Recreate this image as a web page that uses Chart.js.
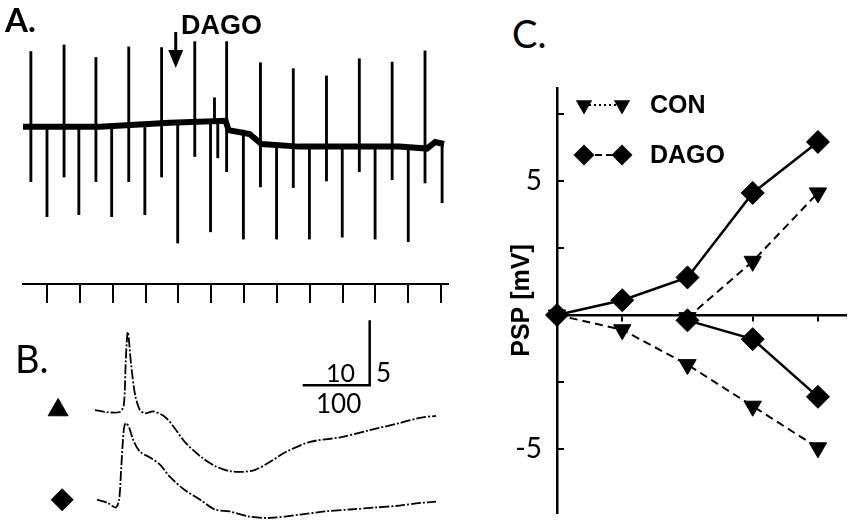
<!DOCTYPE html>
<html>
<head>
<meta charset="utf-8">
<script src="https://cdn.jsdelivr.net/npm/chart.js@4.4.1/dist/chart.umd.min.js"></script>
<style>
  html, body { margin: 0; padding: 0; background: #fff; }
  #fig { position: relative; width: 848px; height: 523px; overflow: hidden; background: #fff; }
  .box { position: absolute; }
  .box canvas { display: block; }
  .lbl { position: absolute; line-height: 1; color: #000; white-space: nowrap; }
  .round { font-family: Lato, "Open Sans", sans-serif; }
  .bold { font-family: "Liberation Sans", Arial, sans-serif; font-weight: bold; }
</style>
</head>
<body>
<div id="fig">
  <div class="box" style="left:0;top:0;width:460px;height:310px"><canvas id="traceA" width="460" height="310"></canvas></div>
  <div class="box" style="left:30px;top:315px;width:430px;height:208px"><canvas id="traceB" width="430" height="208"></canvas></div>
  <div class="box" style="left:500px;top:60px;width:348px;height:463px"><canvas id="pspC" width="348" height="463"></canvas></div>

  <div class="lbl round" style="left:5px;top:3px;font-size:33px;font-weight:bold">A.</div>
  <div class="lbl bold" style="left:181px;top:12px;font-size:27px">DAGO</div>
  <div class="lbl round" style="left:15px;top:339px;font-size:38px">B.</div>
  <div class="lbl round" style="left:326px;top:360px;font-size:25px">10</div>
  <div class="lbl round" style="left:376px;top:359px;font-size:26px">5</div>
  <div class="lbl round" style="left:316px;top:390px;font-size:26px">100</div>
  <div class="lbl round" style="left:512px;top:14px;font-size:38px">C.</div>
</div>

<script>
// ---- A: chart recorder trace (time in s, potential in mV, baseline = 0)
const spikeTime = [-0.49, 0, 0.52, 0.97, 1.49, 1.97, 2.49, 2.98, 3.49, 3.98, 4.50, 4.98, 5.10, 5.20,
                   5.47, 5.98, 6.50, 6.99, 7.50, 7.99, 8.51, 8.99, 9.51, 9.99, 10.51, 11.00, 11.51, 12.03];
const spikeTop = [11.4, 0, 12.4, 0, 10.5, 0, 12.1, 0, 12.0, 0.5, 12.9, 0.5, 4.4, 0.8,
                  12.9, -0.5, 9.7, -3.0, 8.8, -3.0, 7.7, -3.0, 10.3, -3.0, 9.8, -3.0, 11.5, -2.7];
const spikeBottom = [-8.3, -13.6, -7.6, -13.3, -8.3, -13.6, -8.3, -13.3, -7.6, -17.6, -4.5, -15.9, 0.8, -4.7,
                     -6.8, -17.0, -9.1, -17.0, -9.2, -17.0, -8.2, -16.7, -6.8, -17.0, -8.0, -17.4, -8.5, -11.5];
const baseTime = [-0.73, 1.61, 3.74, 5.44, 5.53, 6.17, 6.53, 7.69, 10.72, 11.57, 11.82, 12.09];
const baseLevel = [0, 0, 0.6, 0.9, -0.5, -1.1, -2.6, -3.0, -3.0, -3.3, -2.3, -2.6];
const timeMarks = [0, 1, 2, 3, 4, 5, 6, 7, 8, 9, 10, 11, 12];
const dagoOnset = 3.92;

// ---- B: averaged PSPs (ms, mV)
const traceTriTime = [0, 15, 37, 43, 46, 49, 54, 60, 67, 75, 87, 105, 119, 134, 157, 179, 201, 221, 239, 261, 284, 321, 366, 410, 455, 485, 509];
const traceTri = [0, -0.15, -0.15, 0.4, 3.85, 6.0, 3.45, 1.15, 0, -0.25, -0.1, -0.55, -1.4, -2.45, -3.55, -4.3, -4.7, -4.75, -4.6, -4.0, -3.25, -2.45, -2.1, -1.55, -1.0, -0.6, -0.45];
const traceDiaTime = [3, 19, 31, 36, 39, 43, 46, 51, 57, 67, 82, 97, 112, 134, 157, 179, 201, 231, 261, 306, 343, 381, 418, 455, 485, 509];
const traceDia = [0, -0.25, -0.6, 0, 2.3, 5.4, 5.9, 5.55, 4.6, 3.7, 3.25, 2.7, 1.75, 0.75, 0, -0.75, -0.9, -1.3, -1.4, -1.15, -0.9, -0.75, -0.6, -0.45, -0.25, -0.15];
const scaleBarMs = 100;
const scaleBarMv = 5;

// ---- C: PSP amplitude vs stimulus step
const steps = [0, 1, 2, 3, 4];
const conUp = [null, null, -0.1, 2.0, 4.55];
const conDown = [0, -0.55, -1.85, -3.4, -4.95];
const dagoUp = [0, 0.55, 1.4, 4.55, 6.45];
const dagoDown = [null, null, -0.2, -0.9, -3.05];
const pspTicks = [-5, -2.5, 0, 2.5, 5, 7.5];
const pspLabelled = [-5, 5];

Chart.defaults.color = '#000';
Chart.defaults.font.family = 'Lato, "Open Sans", sans-serif';

const ink = '#000';
const quiet = { legend: { display: false }, tooltip: { enabled: false } };
const noPad = s => { s.paddingTop = 0; s.paddingBottom = 0; s.paddingLeft = 0; s.paddingRight = 0; };

// A --------------------------------------------------------------
const dagoArrow = {
  id: 'dagoArrow',
  afterDraw(chart) {
    const { ctx, chartArea, scales } = chart;
    const x = scales.x.getPixelForValue(dagoOnset);
    const top = chartArea.top - 3;
    const tip = chartArea.top + 33;
    ctx.save();
    ctx.strokeStyle = ink;
    ctx.fillStyle = ink;
    ctx.lineWidth = 3;
    ctx.beginPath();
    ctx.moveTo(x, top);
    ctx.lineTo(x, tip - 16);
    ctx.stroke();
    ctx.beginPath();
    ctx.moveTo(x - 7.5, tip - 18);
    ctx.lineTo(x + 7.5, tip - 18);
    ctx.lineTo(x, tip);
    ctx.closePath();
    ctx.fill();
    ctx.restore();
  }
};

new Chart(document.getElementById('traceA'), {
  type: 'bar',
  data: {
    datasets: [
      {
        label: 'spikes',
        data: spikeTime.map((t, i) => ({ x: t, y: [spikeBottom[i], spikeTop[i]] })),
        backgroundColor: ink,
        borderWidth: 0,
        barThickness: 2.2,
        clip: false
      },
      {
        type: 'line',
        label: 'membrane potential',
        data: baseTime.map((t, i) => ({ x: t, y: baseLevel[i] })),
        borderColor: ink,
        borderWidth: 6,
        pointRadius: 0,
        tension: 0,
        clip: false
      }
    ]
  },
  options: {
    responsive: false,
    animation: false,
    events: [],
    layout: { autoPadding: false, padding: { left: 23, right: 12, top: 35, bottom: 7 } },
    plugins: quiet,
    scales: {
      x: {
        type: 'linear',
        min: -0.73,
        max: 12.21,
        offset: false,
        afterBuildTicks: s => { s.ticks = timeMarks.map(v => ({ value: v })); },
        afterFit: s => { s.height = 19; noPad(s); },
        ticks: { display: false },
        grid: { offset: false, drawOnChartArea: false, drawTicks: true, tickLength: 19, color: ink, lineWidth: 2 },
        border: { display: true, color: ink, width: 2 }
      },
      y: { display: false, min: -23.8, max: 13.9 }
    }
  },
  plugins: [dagoArrow]
});

// B --------------------------------------------------------------
const diaOffset = -6.9;
const barCorner = { x: 410, y: 1.9 };

new Chart(document.getElementById('traceB'), {
  type: 'line',
  data: {
    datasets: [
      {
        label: 'triangle',
        data: traceTriTime.map((t, i) => ({ x: t, y: traceTri[i] })),
        borderColor: ink, borderWidth: 1.8, borderDash: [10, 2, 2, 2],
        pointRadius: 0, tension: 0.3, clip: false
      },
      {
        label: 'diamond',
        data: traceDiaTime.map((t, i) => ({ x: t, y: traceDia[i] + diaOffset })),
        borderColor: ink, borderWidth: 1.8, borderDash: [10, 2, 2, 2],
        pointRadius: 0, tension: 0.3, clip: false
      },
      {
        label: 'scale',
        data: [
          { x: barCorner.x - scaleBarMs, y: barCorner.y },
          { x: barCorner.x, y: barCorner.y },
          { x: barCorner.x, y: barCorner.y + scaleBarMv }
        ],
        borderColor: ink, borderWidth: 2.5, pointRadius: 0, tension: 0, clip: false
      },
      {
        label: 'markers',
        data: [{ x: -55, y: 0 }, { x: -49, y: diaOffset }],
        showLine: false,
        pointStyle: ['triangle', 'rectRot'],
        pointRadius: [11.5, 11],
        pointBackgroundColor: ink, pointBorderColor: ink, pointBorderWidth: 1,
        clip: false
      }
    ]
  },
  options: {
    responsive: false,
    animation: false,
    events: [],
    layout: { autoPadding: false, padding: 0 },
    plugins: quiet,
    scales: {
      x: { type: 'linear', display: false, min: -97, max: 544.8 },
      y: { type: 'linear', display: false, min: -8.69, max: 7.31 }
    }
  }
});

// C --------------------------------------------------------------
function marker(ctx, style, x, y, r) {
  ctx.beginPath();
  if (style === 'triDown') {
    ctx.moveTo(x, y + r);
    ctx.lineTo(x - r * 0.866, y - r / 2);
    ctx.lineTo(x + r * 0.866, y - r / 2);
  } else {
    ctx.moveTo(x - r, y);
    ctx.lineTo(x, y - r);
    ctx.lineTo(x + r, y);
    ctx.lineTo(x, y + r);
  }
  ctx.closePath();
  ctx.fill();
}

const pspLegend = {
  id: 'pspLegend',
  afterDraw(chart) {
    const { ctx, chartArea } = chart;
    const rows = [
      { ds: chart.data.datasets[2], style: 'triDown', r: 9.5, dash: [2, 3] },
      { ds: chart.data.datasets[0], style: 'diamond', r: 10.5, dash: [7, 4] }
    ];
    ctx.save();
    ctx.fillStyle = ink;
    ctx.strokeStyle = ink;
    rows.forEach((row, i) => {
      const y = chartArea.top + 17 + i * 50;
      const x1 = chartArea.left + 27;
      const x2 = chartArea.left + 65;
      ctx.lineWidth = 2;
      ctx.setLineDash(row.dash);
      ctx.beginPath();
      ctx.moveTo(x1, y);
      ctx.lineTo(x2, y);
      ctx.stroke();
      ctx.setLineDash([]);
      marker(ctx, row.style, x1, y, row.r);
      marker(ctx, row.style, x2, y, row.r);
      ctx.font = 'bold 25px "Liberation Sans", Arial, sans-serif';
      ctx.textBaseline = 'middle';
      ctx.textAlign = 'left';
      ctx.fillText(row.ds.label, chartArea.left + 93, y + 1);
    });
    ctx.restore();
  }
};

const pts = arr => steps.map((s, i) => ({ x: s, y: arr[i] }));
const dagoStyle = {
  borderColor: ink, borderWidth: 2.5, pointStyle: 'rectRot', pointRadius: 11.5,
  pointBackgroundColor: ink, pointBorderColor: ink, pointBorderWidth: 1, tension: 0, clip: false
};
const conStyle = {
  borderColor: ink, borderWidth: 2, borderDash: [8, 5], pointStyle: 'triangle', pointRotation: 180,
  pointRadius: 10, pointBackgroundColor: ink, pointBorderColor: ink, pointBorderWidth: 1, tension: 0, clip: false
};

new Chart(document.getElementById('pspC'), {
  type: 'line',
  data: {
    datasets: [
      Object.assign({ label: 'DAGO', data: pts(dagoUp) }, dagoStyle),
      Object.assign({ label: 'DAGO', data: pts(dagoDown) }, dagoStyle),
      Object.assign({ label: 'CON', data: pts(conUp) }, conStyle),
      Object.assign({ label: 'CON', data: pts(conDown) }, conStyle)
    ]
  },
  options: {
    responsive: false,
    animation: false,
    events: [],
    layout: { autoPadding: false, padding: { left: 0, right: 2, top: 28, bottom: 10 } },
    plugins: quiet,
    scales: {
      x: {
        type: 'linear',
        position: { y: 0 },
        min: 0,
        max: 4.43,
        afterBuildTicks: s => { s.ticks = steps.filter(v => v > 0).map(v => ({ value: v })); },
        afterFit: noPad,
        ticks: { display: false },
        grid: { drawOnChartArea: false, drawTicks: true, tickLength: 5, color: ink, lineWidth: 2 },
        border: { display: true, color: ink, width: 2.5 }
      },
      y: {
        type: 'linear',
        position: 'left',
        min: -7.38,
        max: 8.46,
        afterBuildTicks: s => { s.ticks = pspTicks.map(v => ({ value: v })); },
        afterFit: s => { s.width = 57; noPad(s); },
        ticks: {
          padding: 22,
          font: { size: 28 },
          color: ink,
          callback: v => (pspLabelled.includes(v) ? String(v) : '')
        },
        grid: { drawOnChartArea: false, drawTicks: true, tickLength: -7, color: ink, lineWidth: 2 },
        border: { display: true, color: ink, width: 2.5 },
        title: {
          display: true,
          text: 'PSP [mV]',
          color: ink,
          font: { family: '"Liberation Sans", Arial, sans-serif', weight: 'bold', size: 25 },
          padding: { top: 7, bottom: 0 }
        }
      }
    }
  },
  plugins: [pspLegend]
});
</script>
</body>
</html>
